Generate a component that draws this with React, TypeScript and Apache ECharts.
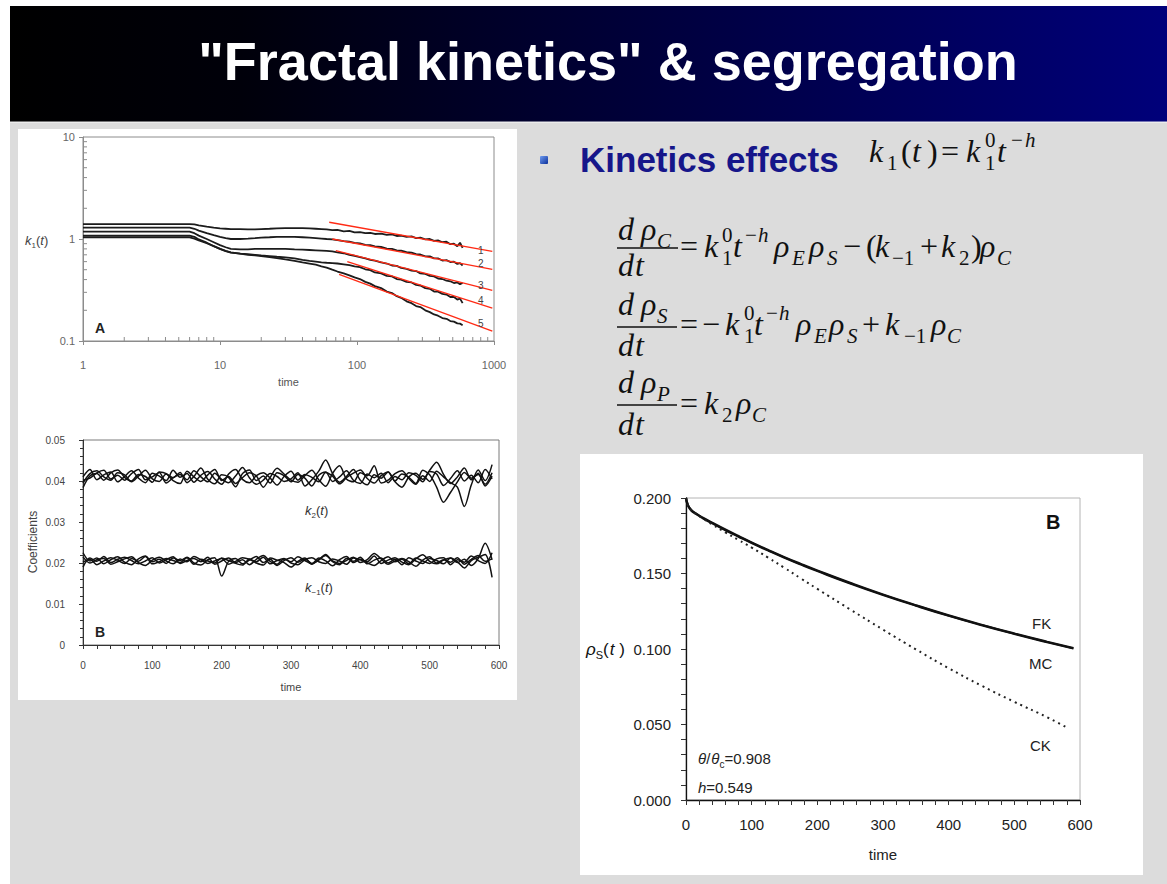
import React, { useEffect, useRef } from 'react';
import * as echarts from 'echarts';

const W = 1167;
const H = 884;
const SANS = 'Liberation Sans';
const SERIF = 'Liberation Serif';

// ---------- Panel A: k1(t) for five runs, log-log ----------
const tA = [1, 2, 3, 4, 5, 6, 6.5, 7, 8, 9, 10, 11, 12, 14, 16, 18, 20, 23, 26, 30, 35, 40, 45, 50, 55, 60,
  66, 72, 80, 88, 96, 105, 115, 125, 135, 150, 165, 180, 195, 210, 230, 250, 270, 290, 315, 340, 365, 390,
  420, 450, 480, 510, 540, 565, 590];
const k1Run1 = [1.40, 1.40, 1.40, 1.40, 1.40, 1.40, 1.39, 1.36, 1.32, 1.29, 1.27, 1.26, 1.25, 1.25, 1.24, 1.24, 1.25,
  1.26, 1.27, 1.28, 1.28, 1.28, 1.27, 1.26, 1.25, 1.24, 1.22, 1.23, 1.19, 1.20, 1.16, 1.17, 1.14, 1.15, 1.12,
  1.13, 1.10, 1.11, 1.07, 1.08, 1.05, 1.06, 1.02, 1.03, 0.99, 1.00, 0.96, 0.97, 0.93, 0.94, 0.89, 0.90, 0.85, 0.92, 0.82];
const k1Run2 = [1.29, 1.29, 1.29, 1.29, 1.29, 1.29, 1.26, 1.21, 1.14, 1.09, 1.05, 1.02, 1.00, 1.00, 1.01, 1.02, 1.03,
  1.04, 1.05, 1.05, 1.05, 1.04, 1.03, 1.02, 1.01, 1.00, 0.99, 0.975, 0.955, 0.94, 0.915, 0.905, 0.875, 0.87, 0.845,
  0.835, 0.805, 0.80, 0.775, 0.77, 0.745, 0.735, 0.71, 0.705, 0.675, 0.675, 0.645, 0.645, 0.615, 0.62, 0.595, 0.60, 0.57, 0.58, 0.55];
const k1Run3 = [1.18, 1.18, 1.18, 1.18, 1.18, 1.18, 1.14, 1.08, 1.00, 0.93, 0.87, 0.83, 0.80, 0.79, 0.79, 0.80, 0.80,
  0.80, 0.80, 0.80, 0.79, 0.785, 0.78, 0.775, 0.77, 0.765, 0.755, 0.74, 0.725, 0.70, 0.685, 0.665, 0.645, 0.625, 0.615,
  0.59, 0.575, 0.55, 0.545, 0.52, 0.51, 0.49, 0.485, 0.46, 0.455, 0.435, 0.43, 0.41, 0.405, 0.39, 0.385, 0.37, 0.375, 0.36, 0.37];
const k1Run4 = [1.08, 1.08, 1.08, 1.08, 1.08, 1.08, 1.05, 0.99, 0.92, 0.85, 0.80, 0.76, 0.735, 0.72, 0.71, 0.70, 0.69,
  0.68, 0.67, 0.66, 0.645, 0.625, 0.61, 0.60, 0.59, 0.585, 0.58, 0.575, 0.565, 0.555, 0.54, 0.53, 0.505, 0.495, 0.47,
  0.46, 0.435, 0.43, 0.405, 0.40, 0.38, 0.375, 0.355, 0.35, 0.33, 0.325, 0.305, 0.305, 0.29, 0.285, 0.27, 0.27, 0.255, 0.26, 0.235];
const k1Run5 = [1.04, 1.04, 1.04, 1.04, 1.04, 1.04, 1.01, 0.97, 0.91, 0.85, 0.80, 0.765, 0.74, 0.72, 0.70, 0.69, 0.68,
  0.665, 0.65, 0.63, 0.61, 0.59, 0.575, 0.56, 0.54, 0.525, 0.50, 0.48, 0.46, 0.44, 0.42, 0.405, 0.38, 0.365, 0.345,
  0.33, 0.305, 0.295, 0.275, 0.265, 0.245, 0.235, 0.22, 0.215, 0.20, 0.192, 0.182, 0.177, 0.168, 0.165, 0.157, 0.155, 0.149, 0.148, 0.143];
const k1Runs = [k1Run1, k1Run2, k1Run3, k1Run4, k1Run5];

// power-law fits (straight on log-log): [t, k1] end points
const fit1 = [[62.7, 1.46], [972, 0.755]];
const fit2 = [[66, 1.0], [972, 0.505]];
const fit3 = [[70, 0.77], [972, 0.314]];
const fit4 = [[85, 0.6], [972, 0.21]];
const fit5 = [[74, 0.45], [972, 0.125]];
const k1Fits = [fit1, fit2, fit3, fit4, fit5];
const runLabels = ['1', '2', '3', '4', '5'];

const minorTimeA = [2, 3, 4, 5, 6, 7, 8, 9, 20, 30, 40, 50, 60, 70, 80, 90, 200, 300, 400, 500, 600, 700, 800, 900];
const minorK1A = [0.2, 0.3, 0.4, 0.5, 0.6, 0.7, 0.8, 0.9, 2, 3, 4, 5, 6, 7, 8, 9];

// ---------- Panel B: coefficients k2(t), k-1(t) ----------
const tB = [0, 10, 20, 30, 40, 50, 60, 70, 80, 90, 100, 110, 120, 130, 140, 150, 160, 170, 180, 190, 200, 210,
  220, 230, 240, 250, 260, 270, 280, 290, 300, 310, 320, 330, 340, 350, 360, 370, 380, 390, 400, 410, 420, 430,
  440, 450, 460, 470, 480, 490, 500, 510, 520, 530, 540, 550, 560, 570, 580, 590];
const k2Run1 = [0.0395, 0.0418, 0.0425, 0.0410, 0.0402, 0.0420, 0.0415, 0.0398, 0.0412, 0.0426,
  0.0405, 0.0399, 0.0417, 0.0408, 0.0421, 0.0396, 0.0411, 0.0432, 0.0404, 0.0393,
  0.0415, 0.0409, 0.0386, 0.0418, 0.0427, 0.0401, 0.0412, 0.0395, 0.0420, 0.0413,
  0.0398, 0.0416, 0.0407, 0.0388, 0.0414, 0.0422, 0.0399, 0.0410, 0.0425, 0.0402,
  0.0394, 0.0417, 0.0408, 0.0419, 0.0396, 0.0411, 0.0403, 0.0420, 0.0414, 0.0398,
  0.0423, 0.0417, 0.0389, 0.0406, 0.0425, 0.0400, 0.0414, 0.0396, 0.0428, 0.0405];
const k2Run2 = [0.0410, 0.0428, 0.0403, 0.0415, 0.0422, 0.0398, 0.0411, 0.0425, 0.0407, 0.0396,
  0.0419, 0.0412, 0.0401, 0.0426, 0.0409, 0.0418, 0.0397, 0.0414, 0.0423, 0.0405,
  0.0392, 0.0417, 0.0428, 0.0404, 0.0396, 0.0413, 0.0420, 0.0407, 0.0390, 0.0411,
  0.0424, 0.0402, 0.0416, 0.0409, 0.0398, 0.0421, 0.0412, 0.0393, 0.0408, 0.0419,
  0.0427, 0.0406, 0.0395, 0.0413, 0.0422, 0.0400, 0.0417, 0.0409, 0.0394, 0.0426,
  0.0415, 0.0385, 0.0348, 0.0372, 0.0398, 0.0421, 0.0407, 0.0416, 0.0392, 0.0420];
const k2Run3 = [0.0402, 0.0407, 0.0420, 0.0426, 0.0405, 0.0414, 0.0402, 0.0418, 0.0428, 0.0403,
  0.0410, 0.0421, 0.0395, 0.0408, 0.0416, 0.0403, 0.0425, 0.0410, 0.0398, 0.0419,
  0.0404, 0.0396, 0.0412, 0.0433, 0.0408, 0.0392, 0.0402, 0.0418, 0.0411, 0.0399,
  0.0405, 0.0420, 0.0388, 0.0403, 0.0424, 0.0451, 0.0418, 0.0397, 0.0411, 0.0428,
  0.0402, 0.0391, 0.0415, 0.0407, 0.0422, 0.0398, 0.0385, 0.0410, 0.0419, 0.0404,
  0.0426, 0.0446, 0.0416, 0.0394, 0.0410, 0.0432, 0.0403, 0.0419, 0.0388, 0.0412];
const k2Run4 = [0.0384, 0.0412, 0.0418, 0.0402, 0.0420, 0.0427, 0.0409, 0.0400, 0.0416, 0.0411,
  0.0397, 0.0422, 0.0418, 0.0401, 0.0394, 0.0424, 0.0410, 0.0399, 0.0415, 0.0428,
  0.0401, 0.0411, 0.0394, 0.0408, 0.0420, 0.0412, 0.0385, 0.0409, 0.0431, 0.0417,
  0.0402, 0.0397, 0.0413, 0.0426, 0.0403, 0.0387, 0.0419, 0.0437, 0.0405, 0.0398,
  0.0420, 0.0413, 0.0437, 0.0395, 0.0402, 0.0418, 0.0425, 0.0406, 0.0392, 0.0413,
  0.0399, 0.0424, 0.0410, 0.0396, 0.0385, 0.0338, 0.0390, 0.0427, 0.0401, 0.0440];
const km1Run1 = [0.0225, 0.0205, 0.0212, 0.0198, 0.0208, 0.0215, 0.0202, 0.0196, 0.0210, 0.0217,
  0.0203, 0.0209, 0.0199, 0.0212, 0.0206, 0.0214, 0.0200, 0.0195, 0.0208, 0.0213,
  0.0168, 0.0204, 0.0211, 0.0198, 0.0207, 0.0216, 0.0201, 0.0209, 0.0194, 0.0206,
  0.0213, 0.0202, 0.0210, 0.0199, 0.0207, 0.0221, 0.0203, 0.0196, 0.0211, 0.0204,
  0.0214, 0.0198, 0.0207, 0.0212, 0.0200, 0.0209, 0.0196, 0.0213, 0.0205, 0.0199,
  0.0211, 0.0206, 0.0198, 0.0212, 0.0203, 0.0188, 0.0206, 0.0214, 0.0221, 0.0165];
const km1Run2 = [0.0190, 0.0212, 0.0204, 0.0216, 0.0201, 0.0209, 0.0214, 0.0206, 0.0198, 0.0205,
  0.0213, 0.0200, 0.0208, 0.0215, 0.0199, 0.0206, 0.0211, 0.0203, 0.0214, 0.0197,
  0.0205, 0.0212, 0.0201, 0.0208, 0.0196, 0.0209, 0.0218, 0.0204, 0.0197, 0.0210,
  0.0203, 0.0215, 0.0206, 0.0198, 0.0212, 0.0205, 0.0193, 0.0208, 0.0216, 0.0201,
  0.0209, 0.0203, 0.0217, 0.0199, 0.0207, 0.0213, 0.0202, 0.0196, 0.0210, 0.0220,
  0.0204, 0.0198, 0.0207, 0.0212, 0.0201, 0.0209, 0.0194, 0.0211, 0.0248, 0.0208];
const km1Run3 = [0.0215, 0.0200, 0.0208, 0.0211, 0.0197, 0.0203, 0.0210, 0.0215, 0.0201, 0.0194,
  0.0207, 0.0214, 0.0205, 0.0198, 0.0210, 0.0203, 0.0216, 0.0208, 0.0199, 0.0205,
  0.0211, 0.0197, 0.0204, 0.0213, 0.0209, 0.0200, 0.0195, 0.0212, 0.0207, 0.0201,
  0.0190, 0.0204, 0.0212, 0.0197, 0.0209, 0.0218, 0.0205, 0.0199, 0.0206, 0.0214,
  0.0201, 0.0208, 0.0223, 0.0210, 0.0197, 0.0205, 0.0211, 0.0203, 0.0192, 0.0207,
  0.0215, 0.0200, 0.0208, 0.0202, 0.0213, 0.0197, 0.0209, 0.0218, 0.0204, 0.0210];
const km1Run4 = [0.0202, 0.0209, 0.0196, 0.0205, 0.0213, 0.0207, 0.0199, 0.0211, 0.0204, 0.0216,
  0.0198, 0.0203, 0.0211, 0.0206, 0.0201, 0.0213, 0.0197, 0.0209, 0.0205, 0.0200,
  0.0212, 0.0206, 0.0199, 0.0195, 0.0210, 0.0203, 0.0214, 0.0198, 0.0206, 0.0211,
  0.0200, 0.0196, 0.0208, 0.0213, 0.0203, 0.0199, 0.0210, 0.0205, 0.0197, 0.0212,
  0.0208, 0.0200, 0.0194, 0.0206, 0.0215, 0.0203, 0.0209, 0.0198, 0.0212, 0.0205,
  0.0199, 0.0210, 0.0213, 0.0196, 0.0208, 0.0202, 0.0217, 0.0206, 0.0199, 0.0225];
const coefRuns = [k2Run1, k2Run2, k2Run3, k2Run4, km1Run1, km1Run2, km1Run3, km1Run4];

// ---------- Panel C: substrate density rho_S(t) ----------
const tFK = [0, 3, 8, 15, 25, 40, 60, 80, 100, 125, 150, 175, 200, 250, 300, 350, 400, 450, 500, 550, 590];
const rhoFK = [0.2000, 0.1950, 0.1918, 0.1895, 0.1868, 0.1832, 0.1787, 0.1744, 0.1702, 0.1652, 0.1604, 0.1559,
  0.1516, 0.1434, 0.1358, 0.1287, 0.1220, 0.1158, 0.1100, 0.1045, 0.1003];
const rhoMC = [0.2000, 0.1953, 0.1921, 0.1898, 0.1871, 0.1836, 0.1791, 0.1748, 0.1706, 0.1656, 0.1608, 0.1563,
  0.1520, 0.1438, 0.1361, 0.1290, 0.1223, 0.1161, 0.1103, 0.1048, 0.1006];
const tCK = [0, 3, 8, 15, 25, 40, 60, 80, 100, 125, 150, 175, 200, 250, 300, 350, 400, 450, 500, 550, 582];
const rhoCK = [0.2000, 0.1950, 0.1918, 0.1895, 0.1866, 0.1825, 0.1772, 0.1722, 0.1672, 0.1605, 0.1537, 0.1467,
  0.1398, 0.1262, 0.1128, 0.0998, 0.0873, 0.0757, 0.0650, 0.0548, 0.0475];

const zip = (xs: number[], ys: number[]) => xs.map((x, i) => [x, ys[i]]);

// ---------- inline math typesetting ----------
type Tok = { s: string; it?: boolean; sub?: boolean; sup?: boolean; gap?: number; at?: number };
const I = (s: string, at?: number): Tok => ({ s, it: true, at });
const R = (s: string, at?: number): Tok => ({ s, at });
const Sub = (s: string, at?: number, it = false): Tok => ({ s, sub: true, it, at });
const Sup = (s: string, at?: number, it = false): Tok => ({ s, sup: true, it, at });

let measureCtx: CanvasRenderingContext2D | null = null;
function textWidth(s: string, font: string) {
  if (!measureCtx) measureCtx = document.createElement('canvas').getContext('2d');
  measureCtx!.font = font;
  return measureCtx!.measureText(s).width;
}

const CENTRAL = 0.34;
function mathRow(x0: number, base: number, toks: Tok[], size: number, family: string, color: string, scriptScale = 0.66) {
  const els: any[] = [];
  let x = x0;
  toks.forEach((tk) => {
    const fs = tk.sub || tk.sup ? Math.round(size * scriptScale) : size;
    const font = `${tk.it ? 'italic ' : ''}${fs}px "${family}"`;
    const w = textWidth(tk.s, font);
    const start = tk.at != null ? tk.at : x + (tk.gap || 0);
    const off = tk.sub ? size * 0.24 : tk.sup ? -size * 0.46 : 0;
    els.push({
      type: 'text', z: 60, x: start, y: base + off - CENTRAL * fs, silent: true,
      style: {
        text: tk.s, fontSize: fs, fontStyle: tk.it ? 'italic' : 'normal',
        fontFamily: family, fill: color, align: 'left', verticalAlign: 'middle',
      },
    });
    x = start + w;
  });
  return els;
}

function plainText(x: number, y: number, text: string, size: number, color: string, extra: any = {}) {
  return {
    type: 'text', z: 60, x, y, silent: true, rotation: extra.rotation || 0,
    style: {
      text, fontSize: size, fontFamily: extra.family || SANS, fontWeight: extra.weight || 'normal',
      fontStyle: extra.italic ? 'italic' : 'normal', fill: color,
      align: extra.align || 'left', verticalAlign: 'middle',
    },
  };
}

function bar(x1: number, x2: number, y: number) {
  return { type: 'line', z: 60, silent: true, shape: { x1, y1: y, x2, y2: y }, style: { stroke: '#111', lineWidth: 1.6 } };
}

function buildGraphics() {
  const EQ = 32;
  const ink = '#111';
  const g: any[] = [
    { type: 'rect', z: -20, silent: true, shape: { x: 10, y: 6, width: W - 10, height: H - 6 }, style: { fill: '#dcdcdc' } },
    {
      type: 'rect', z: -19, silent: true, shape: { x: 10, y: 6, width: W - 10, height: 116 },
      style: { fill: new echarts.graphic.LinearGradient(0, 0, 1, 0, [{ offset: 0, color: '#000000' }, { offset: 0.2, color: '#00000a' }, { offset: 1, color: '#00007a' }]) },
    },
    { type: 'rect', z: -18, silent: true, shape: { x: 10, y: 121, width: W - 10, height: 2 }, style: { fill: 'rgba(255,255,255,0.45)' } },
    { type: 'rect', z: -18, silent: true, shape: { x: 18, y: 129, width: 499, height: 571 }, style: { fill: '#ffffff' } },
    { type: 'rect', z: -18, silent: true, shape: { x: 580, y: 454, width: 563, height: 421 }, style: { fill: '#ffffff' } },
    plainText(608, 61, '"Fractal kinetics" & segregation', 54, '#ffffff', { align: 'center', weight: 'bold' }),
    {
      type: 'rect', z: 60, silent: true, shape: { x: 540, y: 156, width: 8, height: 8, r: 1 },
      style: { fill: new echarts.graphic.LinearGradient(0, 0, 1, 1, [{ offset: 0, color: '#6f9cf0' }, { offset: 1, color: '#0b2f9a' }]) },
    },
    plainText(580, 159, 'Kinetics effects', 35, '#16168a', { weight: 'bold' }),
  ];
  // k1(t) = k1^0 t^-h
  g.push(...mathRow(869, 162, [I('k', 869), Sub('1', 887), R('(', 901), I('t', 912), R(')', 927), R('=', 941),
    I('k', 966), Sup('0', 985), Sub('1', 985), I('t', 997), Sup('−', 1011), Sup('h', 1025, true)], EQ, SERIF, ink));

  // d rhoC / dt
  g.push(...mathRow(618, 240, [I('d', 618), I('ρ', 641), Sub('C', 657, true)], EQ, SERIF, ink));
  g.push(bar(617, 678, 248));
  g.push(...mathRow(618, 276, [I('d', 618), I('t', 635)], EQ, SERIF, ink));
  g.push(...mathRow(680, 257, [R('=', 680), I('k', 704), Sup('0', 722), Sub('1', 722), I('t', 733), Sup('−', 745),
    Sup('h', 758, true), I('ρ', 774), Sub('E', 792, true), I('ρ', 809), Sub('S', 827, true), R('−', 843), R('(', 866),
    I('k', 875), Sub('−1', 892), R('+', 920), I('k', 941), Sub('2', 959), R(')', 971), I('ρ', 980), Sub('C', 997, true)], EQ, SERIF, ink));

  // d rhoS / dt
  g.push(...mathRow(618, 315, [I('d', 618), I('ρ', 641), Sub('S', 657, true)], EQ, SERIF, ink));
  g.push(bar(617, 677, 327));
  g.push(...mathRow(618, 356, [I('d', 618), I('t', 635)], EQ, SERIF, ink));
  g.push(...mathRow(680, 335, [R('=', 680), R('−', 702), I('k', 725), Sup('0', 744), Sub('1', 744), I('t', 754),
    Sup('−', 766), Sup('h', 779, true), I('ρ', 796), Sub('E', 814, true), I('ρ', 829), Sub('S', 847, true), R('+', 862),
    I('k', 885), Sub('−1', 904), I('ρ', 931), Sub('C', 947, true)], EQ, SERIF, ink));

  // d rhoP / dt
  g.push(...mathRow(618, 393, [I('d', 618), I('ρ', 641), Sub('P', 657, true)], EQ, SERIF, ink));
  g.push(bar(617, 677, 405));
  g.push(...mathRow(618, 435, [I('d', 618), I('t', 635)], EQ, SERIF, ink));
  g.push(...mathRow(680, 414, [R('=', 680), I('k', 704), Sub('2', 722), I('ρ', 736), Sub('C', 752, true)], EQ, SERIF, ink));

  // panel A annotations
  g.push(...mathRow(25, 245, [I('k'), Sub('1'), R('('), I('t'), R(')')], 13, SANS, '#444', 0.64));
  g.push(plainText(95, 328, 'A', 14, '#222', { weight: 'bold' }));
  const labelY = [250, 263, 285, 300, 323];
  runLabels.forEach((s, i) => g.push(plainText(478, labelY[i], s, 10, '#444')));

  // panel B annotations
  g.push(plainText(33, 542, 'Coefficients', 12, '#444', { rotation: Math.PI / 2, align: 'center' }));
  g.push(plainText(95, 632, 'B', 14, '#222', { weight: 'bold' }));
  g.push(...mathRow(305, 515, [I('k'), Sub('2'), R('('), I('t'), R(')')], 13, SANS, '#333', 0.64));
  g.push(...mathRow(305, 592, [I('k'), Sub('−1'), R('('), I('t'), R(')')], 13, SANS, '#333', 0.64));

  // panel C annotations
  g.push(...mathRow(586, 655, [I('ρ'), Sub('S'), R('('), { s: 't', it: true, gap: 1 }, R(' )')], 17, SANS, '#111', 0.64));
  g.push(plainText(1046, 522, 'B', 20, '#111', { weight: 'bold' }));
  g.push(plainText(1032, 623, 'FK', 15, '#222'));
  g.push(plainText(1029, 663, 'MC', 15, '#222'));
  g.push(plainText(1030, 745, 'CK', 15, '#222'));
  g.push(...mathRow(698, 764, [I('θ'), R('/'), { s: 'θ', it: true, gap: 1 }, Sub('c'), R('=0.908')], 15, SANS, '#222', 0.64));
  g.push(...mathRow(698, 793, [I('h'), R('=0.549')], 15, SANS, '#222'));
  return g;
}

function tickSeries(data: number[][], xAxisIndex: number, yAxisIndex: number, dx: number, dy: number, color: string) {
  return {
    type: 'custom', xAxisIndex, yAxisIndex, silent: true, z: 4, data,
    renderItem: (_p: any, api: any) => {
      const c = api.coord([api.value(0), api.value(1)]);
      return { type: 'line', shape: { x1: c[0], y1: c[1], x2: c[0] + dx, y2: c[1] + dy }, style: { stroke: color, lineWidth: 1 } };
    },
  };
}

function buildOption() {
  const greyA = '#8c8c8c';
  const series: any[] = [];
  k1Runs.forEach((run, i) => series.push({
    type: 'line', name: `run ${runLabels[i]}`, xAxisIndex: 0, yAxisIndex: 0, data: zip(tA, run),
    showSymbol: false, lineStyle: { color: '#1c1c1c', width: 1.8 }, z: 3,
  }));
  k1Fits.forEach((f) => series.push({
    type: 'line', xAxisIndex: 0, yAxisIndex: 0, data: f, showSymbol: false,
    lineStyle: { color: '#ff2a14', width: 1.3 }, z: 5,
  }));
  series.push(tickSeries(minorTimeA.map((v) => [v, 0.1]), 0, 0, 0, -4, greyA));
  series.push(tickSeries(minorK1A.map((v) => [1, v]), 0, 0, 4, 0, greyA));

  coefRuns.forEach((run) => series.push({
    type: 'line', xAxisIndex: 1, yAxisIndex: 1, data: zip(tB, run), showSymbol: false, smooth: 0.3,
    lineStyle: { color: '#111', width: 1.5 }, z: 3,
  }));

  series.push({ type: 'line', name: 'FK', xAxisIndex: 2, yAxisIndex: 2, data: zip(tFK, rhoFK), showSymbol: false, smooth: true, lineStyle: { color: '#111', width: 2.2 }, z: 3 });
  series.push({ type: 'line', name: 'MC', xAxisIndex: 2, yAxisIndex: 2, data: zip(tFK, rhoMC), showSymbol: false, smooth: true, lineStyle: { color: '#111', width: 2.2 }, z: 3 });
  series.push({ type: 'line', name: 'CK', xAxisIndex: 2, yAxisIndex: 2, data: zip(tCK, rhoCK), showSymbol: false, smooth: true, lineStyle: { color: '#222', width: 2, type: [2, 4] }, z: 3 });

  const noSplit = { splitLine: { show: false } };
  const minorAxis = (gridIndex: number, min: number, max: number, interval: number, len: number) => ({
    gridIndex, type: 'value', min, max, interval, axisLine: { show: false }, axisLabel: { show: false },
    axisTick: { show: true, inside: true, length: len, lineStyle: { color: '#333' } }, ...noSplit,
  });

  return {
    animation: false,
    textStyle: { fontFamily: SANS },
    grid: [
      { left: 83, top: 137, width: 411, height: 204, show: true, borderColor: greyA, borderWidth: 1 },
      { left: 83, top: 440, width: 416, height: 205, show: true, borderColor: '#7a7a7a', borderWidth: 1 },
      { left: 686, top: 498, width: 394, height: 302, show: true, borderColor: '#b4b4b4', borderWidth: 1 },
    ],
    xAxis: [
      {
        gridIndex: 0, type: 'log', logBase: 10, min: 1, max: 1000, name: 'time', nameLocation: 'middle', nameGap: 35,
        nameTextStyle: { fontSize: 11, color: '#555' },
        axisLine: { lineStyle: { color: greyA } }, axisTick: { length: 4, lineStyle: { color: greyA } },
        axisLabel: { fontSize: 11, color: '#666', margin: 18, formatter: (v: number) => String(Math.round(v * 1000) / 1000) }, ...noSplit,
      },
      {
        gridIndex: 1, type: 'value', min: 0, max: 600, interval: 100, name: 'time', nameLocation: 'middle', nameGap: 36,
        nameTextStyle: { fontSize: 11, color: '#444' },
        axisLine: { lineStyle: { color: '#333' } }, axisTick: { length: 4, lineStyle: { color: '#333' } },
        axisLabel: { fontSize: 10, color: '#444', margin: 15 }, ...noSplit,
      },
      {
        gridIndex: 2, type: 'value', min: 0, max: 600, interval: 100, name: 'time', nameLocation: 'middle', nameGap: 47,
        nameTextStyle: { fontSize: 15, color: '#222' },
        axisLine: { lineStyle: { color: '#111', width: 1.3 } }, axisTick: { length: 5, lineStyle: { color: '#111' } },
        axisLabel: { fontSize: 15, color: '#222', margin: 17 }, ...noSplit,
      },
      minorAxis(1, 0, 600, 20, 4),
      minorAxis(2, 0, 600, 20, 5),
    ],
    yAxis: [
      {
        gridIndex: 0, type: 'log', logBase: 10, min: 0.1, max: 10,
        axisLine: { lineStyle: { color: greyA } }, axisTick: { length: 4, lineStyle: { color: greyA } },
        axisLabel: { fontSize: 11, color: '#666', margin: 8, formatter: (v: number) => String(Math.round(v * 1000) / 1000) }, ...noSplit,
      },
      {
        gridIndex: 1, type: 'value', min: 0, max: 0.05, interval: 0.01,
        axisLine: { lineStyle: { color: '#333' } }, axisTick: { length: 4, lineStyle: { color: '#333' } },
        axisLabel: { fontSize: 10, color: '#444', margin: 18, formatter: (v: number) => (v === 0 ? '0' : v.toFixed(2)) }, ...noSplit,
      },
      {
        gridIndex: 2, type: 'value', min: 0, max: 0.2, interval: 0.05,
        axisLine: { lineStyle: { color: '#111', width: 1.3 } }, axisTick: { length: 5, lineStyle: { color: '#111' } },
        axisLabel: { fontSize: 15, color: '#222', margin: 15, formatter: (v: number) => v.toFixed(3) }, ...noSplit,
      },
      minorAxis(1, 0, 0.05, 0.002, 3),
      minorAxis(2, 0, 0.2, 0.01, 5),
    ],
    series,
    graphic: { elements: buildGraphics() },
  };
}

export default function App() {
  const ref = useRef<HTMLDivElement>(null);
  useEffect(() => {
    if (!ref.current) return;
    const chart = echarts.init(ref.current, undefined, { renderer: 'svg' });
    chart.setOption(buildOption() as any);
    return () => chart.dispose();
  }, []);
  return (
    <div
      ref={ref}
      style={{ position: 'absolute', left: 0, top: 0, width: W, height: H, background: '#ffffff' }}
    />
  );
}
